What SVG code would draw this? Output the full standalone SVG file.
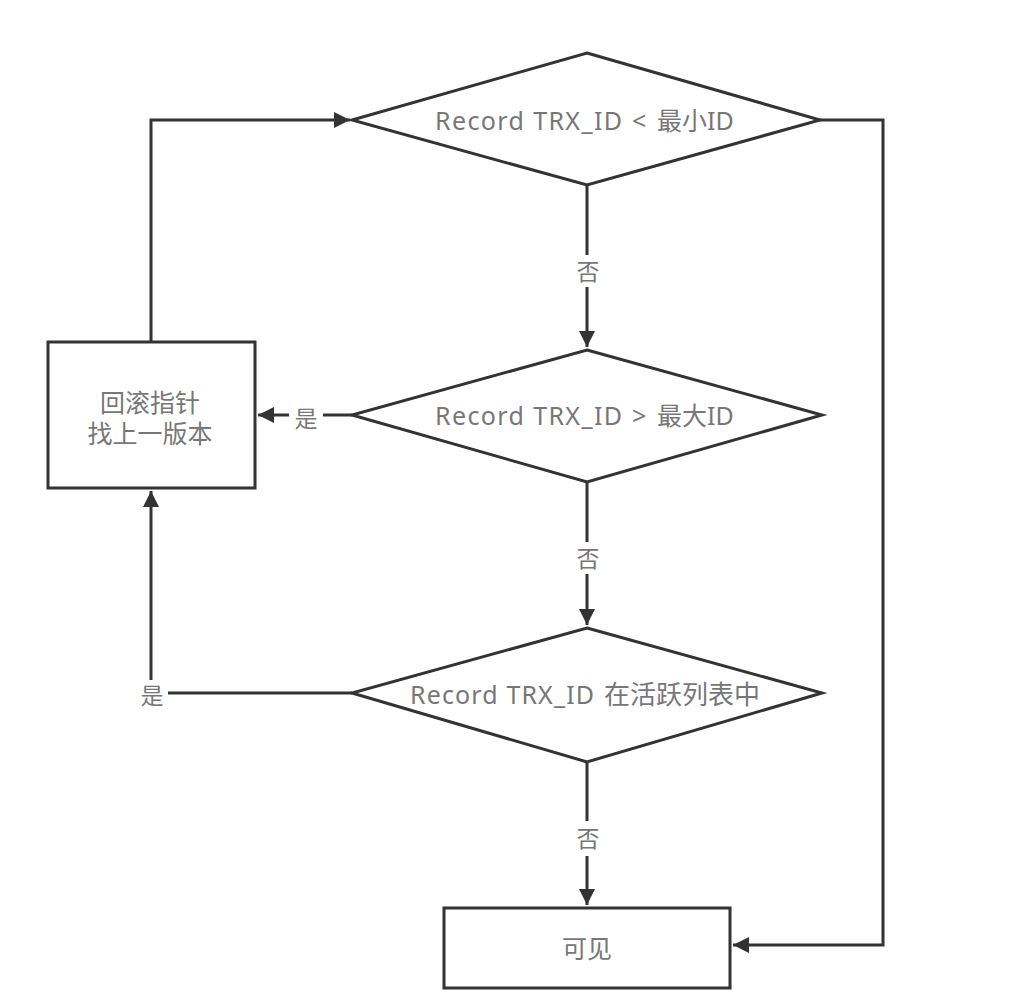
<svg xmlns="http://www.w3.org/2000/svg" width="1024" height="1006" viewBox="0 0 1024 1006">
  <style>
    .shape { fill: #ffffff; stroke: #333333; stroke-width: 3; }
    .edge { fill: none; stroke: #333333; stroke-width: 3; }
    .label { font-family: "Noto Sans", "Noto Sans CJK SC", sans-serif; font-size: 25px; fill: #777777; text-anchor: middle; dominant-baseline: central; }
    .left { text-anchor: start; }
    .small { font-size: 23px; }
  </style>
  <defs>
    <marker id="arrow" markerUnits="userSpaceOnUse" markerWidth="18" markerHeight="16" refX="16" refY="8" orient="auto">
      <path d="M0,0 L16,8 L0,16 Z" fill="#333333"/>
    </marker>
  </defs>
  <rect width="1024" height="1006" fill="#ffffff"/>

  <g id="connectors">
    <!-- rollback box back up to first check -->
    <polyline class="edge" points="151,342 151,120 350,120" marker-end="url(#arrow)"/>
    <!-- first check: yes goes straight to visible -->
    <polyline class="edge" points="820,120 883,120 883,945 733,945" marker-end="url(#arrow)"/>
    <!-- first check -> second check (no) -->
    <line class="edge" x1="587" y1="185" x2="587" y2="255"/>
    <line class="edge" x1="587" y1="287" x2="587" y2="347" marker-end="url(#arrow)"/>
    <!-- second check -> rollback (yes) -->
    <line class="edge" x1="352" y1="415" x2="323" y2="415"/>
    <line class="edge" x1="289" y1="415" x2="258" y2="415" marker-end="url(#arrow)"/>
    <!-- second check -> third check (no) -->
    <line class="edge" x1="587" y1="482" x2="587" y2="542"/>
    <line class="edge" x1="587" y1="574" x2="587" y2="625" marker-end="url(#arrow)"/>
    <!-- third check -> rollback (yes) -->
    <polyline class="edge" points="352,693 168,693"/>
    <line class="edge" x1="151" y1="680" x2="151" y2="491" marker-end="url(#arrow)"/>
    <!-- third check -> visible (no) -->
    <line class="edge" x1="587" y1="762" x2="587" y2="821"/>
    <line class="edge" x1="587" y1="856" x2="587" y2="905" marker-end="url(#arrow)"/>

    <text class="label small" x="588" y="271">否</text>
    <text class="label small" x="306" y="418">是</text>
    <text class="label small" x="588" y="558">否</text>
    <text class="label small" x="152" y="695">是</text>
    <text class="label small" x="588" y="838">否</text>
  </g>

  <g id="check-min">
    <polygon class="shape" points="587,53 820,120 587,185 352,120"/>
    <text class="label left" y="120"><tspan x="435" textLength="187" lengthAdjust="spacing">Record TRX_ID</tspan><tspan x="632">&lt;</tspan><tspan x="657">最小ID</tspan></text>
  </g>

  <g id="check-max">
    <polygon class="shape" points="587,350 822,415 587,482 352,415"/>
    <text class="label left" y="415"><tspan x="435" textLength="187" lengthAdjust="spacing">Record TRX_ID</tspan><tspan x="632">&gt;</tspan><tspan x="657">最大ID</tspan></text>
  </g>

  <g id="check-active">
    <polygon class="shape" points="587,628 822,693 587,762 352,693"/>
    <text class="label left" y="694"><tspan x="410" textLength="184" lengthAdjust="spacing">Record TRX_ID</tspan><tspan x="604" font-size="26">在活跃列表中</tspan></text>
  </g>

  <g id="rollback">
    <rect class="shape" x="48" y="342" width="207" height="146"/>
    <text class="label" x="150" y="402">回滚指针</text>
    <text class="label" x="150" y="433">找上一版本</text>
  </g>

  <g id="visible">
    <rect class="shape" x="444" y="908" width="286" height="80"/>
    <text class="label" x="587" y="948">可见</text>
  </g>
</svg>
